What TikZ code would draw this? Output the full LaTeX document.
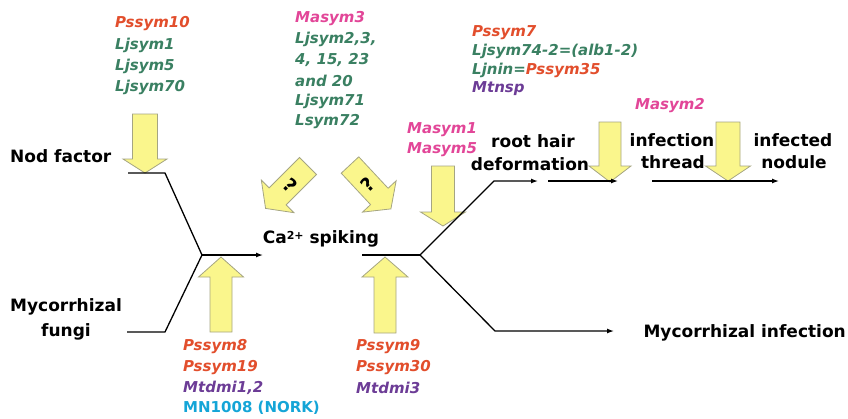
\documentclass[tikz,border=0pt]{standalone}
\usepackage{fontspec}
\setmainfont{DejaVu Sans}
\usetikzlibrary{arrows.meta,calc}
\definecolor{cPs}{RGB}{226,78,44}
\definecolor{cLj}{RGB}{58,128,98}
\definecolor{cMa}{RGB}{226,70,152}
\definecolor{cMt}{RGB}{108,60,150}
\definecolor{cMN}{RGB}{20,165,215}
\definecolor{yfill}{RGB}{250,246,140}
\definecolor{ydraw}{RGB}{165,165,130}
\newcommand\yarr[7]{% tail x, tail y, angle, L, head length, shaft half, head half
  \begin{scope}[shift={(#1,#2)},rotate=#3]
    \filldraw[yarrow] (0,#6) -- ({#4-#5},#6) -- ({#4-#5},#7) -- (#4,0) -- ({#4-#5},-#7) -- ({#4-#5},-#6) -- (0,-#6) -- cycle;
  \end{scope}}
\begin{document}
\begin{tikzpicture}[x=1pt,y=-1pt,
  lbl/.style={font=\bfseries\fontsize{17}{17}\selectfont,inner sep=0pt},
  gene/.style={font=\bfseries\itshape\fontsize{15}{15}\selectfont,inner sep=0pt,anchor=west},
  qmark/.style={font=\bfseries\fontsize{19}{19}\selectfont,inner sep=0pt},
  yarrow/.style={fill=yfill,draw=ydraw,line width=0.8pt},
  conn/.style={line width=1.3pt,line join=miter},
  arr/.style={conn,-{Latex[length=7pt,width=5pt]}}]
\useasboundingbox (0,0) rectangle (848,418);

% yellow block arrows
\yarr{145}{114}{-90}{59}{14}{12.5}{22}
\yarr{443}{166}{-90}{60}{14}{11.5}{22.5}
\yarr{610}{122}{-90}{60}{16}{11}{21}
\yarr{728}{122}{-90}{59}{15}{12}{22.5}
\yarr{221}{332}{90}{75}{20}{11}{22.5}
\yarr{385}{333}{90}{76}{20}{11}{23}
\yarr{308}{166}{225}{60}{17}{12}{23}
\yarr{350}{165}{-47}{60}{17}{12}{23}
\node[qmark,rotate=-45] (q1) at (290,185) {?};
\node[qmark,rotate=43] (q2) at (368,185) {?};

% coordinates
\coordinate (nf1) at (128,173);
\coordinate (nf2) at (165,173);
\coordinate (mf1) at (127,332);
\coordinate (mf2) at (165,332);
\coordinate (j1) at (202,255);
\coordinate (j1e) at (263,255);
\coordinate (j2s) at (362,255);
\coordinate (j2) at (420,255);
\coordinate (u1) at (494,181);
\coordinate (u1e) at (538,181);
\coordinate (a2s) at (548,181);
\coordinate (a2e) at (618,181);
\coordinate (a3s) at (652,181);
\coordinate (a3e) at (779,181);
\coordinate (l1) at (495,331);
\coordinate (l1e) at (614,331);

% connectors
\draw[conn] (nf1) -- (nf2) -- (j1);
\draw[conn] (mf1) -- (mf2) -- (j1);
\draw[arr] (j1) -- (j1e);
\draw[conn] (j2s) -- (j2);
\draw[arr] (j2) -- (u1) -- (u1e);
\draw[arr] (a2s) -- (a2e);
\draw[arr] (a3s) -- (a3e);
\draw[arr] (j2) -- (l1) -- (l1e);

% labels
\node[lbl,anchor=west] (nod) at (10,156) {Nod factor};
\node[lbl] (myc) at (66,307) {Mycorrhizal};
\node[lbl] (fun) at (66,332) {fungi};
\node[lbl] (ca) at (321,239) {Ca\raisebox{0.45ex}{\fontsize{11}{11}\selectfont 2+} spiking};
\node[lbl] (rh1) at (533,141) {root hair};
\node[lbl] (rh2) at (530,164) {deformation};
\node[lbl] (it1) at (672,140) {infection};
\node[lbl] (it2) at (673,162) {thread};
\node[lbl] (in1) at (793,140) {infected};
\node[lbl] (in2) at (794,162) {nodule};
\node[lbl,anchor=east] (mi) at (846,333) {Mycorrhizal infection};

% gene groups
\node[gene,text=cPs] (g1a) at (115,24) {Pssym10};
\node[gene,text=cLj] (g1b) at (115,45) {Ljsym1};
\node[gene,text=cLj] (g1c) at (115,66) {Ljsym5};
\node[gene,text=cLj] (g1d) at (115,87) {Ljsym70};

\node[gene,text=cMa] (g2a) at (295,19) {Masym3};
\node[gene,text=cLj] (g2b) at (295,39.5) {Ljsym2,3,};
\node[gene,text=cLj] (g2c) at (295,60) {4, 15, 23};
\node[gene,text=cLj] (g2d) at (295,80.5) {and 20};
\node[gene,text=cLj] (g2e) at (295,101) {Ljsym71};
\node[gene,text=cLj] (g2f) at (295,121.5) {Lsym72};

\node[gene,text=cPs] (g3a) at (472,33) {Pssym7};
\node[gene,text=cLj] (g3b) at (472,51.5) {Ljsym74-2=(alb1-2)};
\node[gene,text=cLj] (g3c) at (472,70) {Ljnin=\textcolor{cPs}{Pssym35}};
\node[gene,text=cMt] (g3d) at (472,88.5) {Mtnsp};

\node[gene,text=cMa] (g4a) at (407,130) {Masym1};
\node[gene,text=cMa] (g4b) at (407,150) {Masym5};

\node[gene,text=cMa,anchor=center] (g5) at (670,106) {Masym2};

\node[gene,text=cPs] (g6a) at (183,347) {Pssym8};
\node[gene,text=cPs] (g6b) at (183,367.5) {Pssym19};
\node[gene,text=cMt] (g6c) at (183,388) {Mtdmi1,2};
\node[gene,text=cMN,font=\bfseries\fontsize{15}{15}\selectfont] (g6d) at (183,408) {MN1008 (NORK)};

\node[gene,text=cPs] (g7a) at (356,347) {Pssym9};
\node[gene,text=cPs] (g7b) at (356,367.5) {Pssym30};
\node[gene,text=cMt] (g7c) at (356,388) {Mtdmi3};
\end{tikzpicture}
\end{document}
